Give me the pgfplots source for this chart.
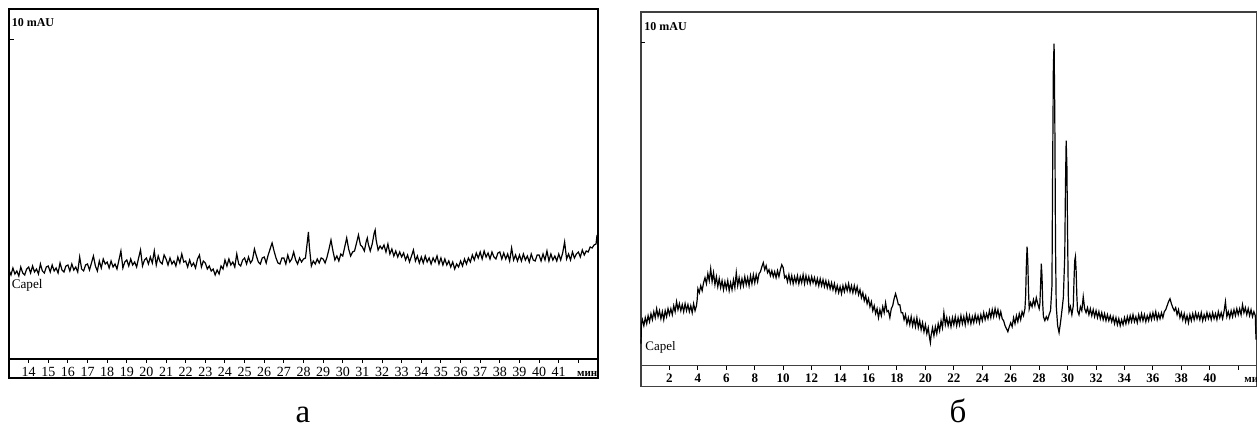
\documentclass[border=0pt]{standalone}
\usepackage{fontspec}
\setmainfont{Liberation Serif}
\usepackage{pgfplots}
\pgfplotsset{compat=1.18}
\newcommand\fs[1]{\fontsize{#1}{#1}\selectfont}
\begin{document}
\begin{tikzpicture}[x=1pt,y=1pt]
\useasboundingbox (0,0) rectangle (628.5,213.5);
% ---------------- panel a ----------------
\begin{axis}[at={(4.5pt,34pt)}, anchor=south west, scale only axis,
  width=294.5pt, height=175pt, xmin=13, xmax=43, ymin=0, ymax=350,
  clip=false, axis line style={line width=0.8pt},
  /pgf/number format/assume math mode=true,
  xtick={14,...,42},
  xticklabels={14,15,16,17,18,19,20,21,22,23,24,25,26,27,28,29,30,31,32,33,34,35,36,37,38,39,40,41,{}},
  xtick pos=bottom, tick align=outside, major tick length=2pt,
  tick style={line width=0.5pt,black},
  xticklabel style={font=\fs{7}, anchor=base, yshift=-6.75pt},
  ytick=\empty]
\addplot[black, line width=0.6pt] coordinates {
(13.0,89)(13.1,84)(13.2,91)(13.3,85)(13.4,88)(13.5,83)(13.6,92)(13.7,86)(13.8,84)(13.9,90)
(14.0,92)(14.1,86)(14.2,93)(14.3,87)(14.4,90)(14.5,85)(14.6,95)(14.7,88)(14.8,86)(14.9,92)
(15.0,93)(15.1,87)(15.2,94)(15.3,88)(15.4,91)(15.5,86)(15.6,96)(15.7,89)(15.8,87)(15.9,93)
(16.0,94)(16.1,88)(16.2,95)(16.3,89)(16.4,92)(16.5,87)(16.6,102)(16.7,90)(16.8,88)(16.9,94)
(17.0,95)(17.1,89)(17.2,96)(17.3,103)(17.4,93)(17.5,88)(17.6,98)(17.7,91)(17.8,100)(17.9,95)
(18.0,97)(18.1,91)(18.2,98)(18.3,92)(18.4,95)(18.5,90)(18.6,99)(18.7,108)(18.8,91)(18.9,97)
(19.0,99)(19.1,93)(19.2,100)(19.3,94)(19.4,97)(19.5,92)(19.6,101)(19.7,109)(19.8,93)(19.9,99)
(20.0,101)(20.1,95)(20.2,102)(20.3,96)(20.4,108)(20.5,94)(20.6,103)(20.7,97)(20.8,95)(20.9,104)
(21.0,100)(21.1,94)(21.2,101)(21.3,95)(21.4,98)(21.5,93)(21.6,102)(21.7,96)(21.8,105)(21.9,97)
(22.0,98)(22.1,92)(22.2,99)(22.3,93)(22.4,96)(22.5,91)(22.6,100)(22.7,104)(22.8,92)(22.9,98)
(23.0,96)(23.1,90)(23.2,93)(23.3,88)(23.4,90)(23.5,84)(23.6,89)(23.7,85)(23.8,93)(23.9,90)
(24.0,99)(24.1,93)(24.2,100)(24.3,94)(24.4,97)(24.5,92)(24.6,105)(24.7,95)(24.8,93)(24.9,99)
(25.0,101)(25.1,95)(25.2,102)(25.3,96)(25.4,99)(25.5,110)(25.6,103)(25.7,97)(25.8,95)(25.9,101)
(26.0,102)(26.1,96)(26.2,104)(26.3,110)(26.4,116)(26.5,108)(26.6,101)(26.7,96)(26.8,95)(26.9,101)
(27.0,101)(27.1,95)(27.2,104)(27.3,97)(27.4,100)(27.5,107)(27.6,99)(27.7,95)(27.8,101)(27.9,97)
(28.0,100)(28.1,101)(28.2,118)(28.25,127)(28.3,112)(28.4,93)(28.5,98)(28.6,95)(28.7,100)(28.8,96)(28.9,101)
(29.0,100)(29.1,96)(29.2,102)(29.3,110)(29.4,119)(29.5,108)(29.6,99)(29.7,103)(29.8,98)(29.9,105)
(30.0,103)(30.1,112)(30.2,121)(30.3,110)(30.4,103)(30.5,107)(30.6,108)(30.7,116)(30.8,124)(30.9,114)
(31.0,112)(31.1,108)(31.2,118)(31.25,121)(31.3,115)(31.4,108)(31.5,115)(31.6,126)(31.65,129)(31.7,119)(31.8,109)(31.9,113)
(32.0,110)(32.1,114)(32.2,107)(32.3,115)(32.4,105)(32.5,110)(32.6,103)(32.7,108)(32.8,102)(32.9,107)
(33.0,102)(33.1,106)(33.2,99)(33.3,104)(33.4,97)(33.5,103)(33.6,109)(33.7,98)(33.8,103)(33.9,96)
(34.0,102)(34.1,96)(34.2,103)(34.3,97)(34.4,101)(34.5,95)(34.6,101)(34.7,97)(34.8,103)(34.9,95)
(35.0,101)(35.1,94)(35.2,100)(35.3,94)(35.4,98)(35.5,92)(35.6,97)(35.7,90)(35.8,95)(35.9,92)
(36.0,98)(36.1,93)(36.2,100)(36.3,95)(36.4,101)(36.5,97)(36.6,104)(36.7,99)(36.8,106)(36.9,101)
(37.0,107)(37.1,100)(37.2,108)(37.3,102)(37.4,106)(37.5,100)(37.6,107)(37.7,102)(37.8,100)(37.9,106)
(38.0,107)(38.1,100)(38.2,106)(38.3,100)(38.4,105)(38.5,98)(38.6,111)(38.7,99)(38.8,104)(38.9,98)
(39.0,104)(39.1,98)(39.2,105)(39.3,99)(39.4,103)(39.5,97)(39.6,105)(39.7,99)(39.8,98)(39.9,104)
(40.0,104)(40.1,98)(40.2,105)(40.3,99)(40.4,108)(40.5,98)(40.6,105)(40.7,99)(40.8,103)(40.9,98)
(41.0,105)(41.1,99)(41.2,106)(41.3,117)(41.4,100)(41.5,105)(41.6,99)(41.7,107)(41.8,101)(41.9,105)
(42.0,107)(42.1,102)(42.2,109)(42.3,104)(42.4,108)(42.5,107)(42.6,112)(42.7,111)(42.8,114)(42.9,115)(42.95,124)
};
\draw[line width=0.8pt] (rel axis cs:0,0) -- ([yshift=-9.5pt]rel axis cs:0,0) -- ([yshift=-9.5pt]rel axis cs:1,0) -- (rel axis cs:1,0);
\draw[line width=0.5pt] (axis cs:13,319) -- (axis cs:13.25,319);
\node[anchor=west, font=\bfseries\fs{6}, inner sep=0pt] at (rel axis cs:0.004,0.961) {10 mAU};
\node[anchor=west, font=\fs{6.6}, inner sep=0pt] at (axis cs:13.12,74) {Capel};
\node[anchor=base, font=\bfseries\fs{5.5}, inner sep=0pt, yshift=-8.75pt] at (axis cs:42.45,0) {мин};
\end{axis}
% ---------------- panel b ----------------
\begin{axis}[at={(320.5pt,30.65pt)}, anchor=south west, scale only axis,
  width=308pt, height=176.85pt, xmin=0, xmax=43.32, ymin=0, ymax=353.7,
  clip=false, axis line style={line width=0.8pt, black!75},
  /pgf/number format/assume math mode=true,
  xtick={2,4,...,42},
  xticklabels={2,4,6,8,10,12,14,16,18,20,22,24,26,28,30,32,34,36,38,40,{}},
  xtick pos=bottom, tick align=outside, major tick length=2pt,
  tick style={line width=0.5pt,black},
  xticklabel style={font=\bfseries\fs{6.5}, anchor=base, yshift=-6.4pt},
  ytick=\empty]
\addplot[black, line width=0.6pt] coordinates {
(0.0,22)(0.03,42)
(0.1,46)(0.2,40)(0.3,48)(0.4,42)(0.5,50)(0.6,44)(0.7,52)(0.8,46)(0.9,54)(1.0,48)
(1.1,57)(1.2,49)(1.3,55)(1.4,47)(1.5,54)(1.6,46)(1.7,55)(1.8,49)(1.9,57)(2.0,51)
(2.1,57)(2.2,51)(2.3,60)(2.4,54)(2.5,64)(2.6,56)(2.7,62)(2.8,55)(2.9,61)(3.0,54)
(3.1,62)(3.2,55)(3.3,61)(3.4,54)(3.5,60)(3.6,53)(3.7,62)(3.8,55)(3.9,60)(3.95,66)
(4.0,77)(4.1,73)(4.2,80)(4.3,75)(4.4,83)(4.5,88)(4.6,82)(4.7,92)(4.8,85)(4.9,97)
(5.0,84)(5.1,93)(5.2,81)(5.3,89)(5.4,79)(5.5,87)(5.6,78)(5.7,85)(5.8,76)(5.9,84)
(6.0,77)(6.1,85)(6.2,75)(6.3,83)(6.4,76)(6.5,86)(6.6,78)(6.7,93)(6.8,80)(6.9,88)
(7.0,79)(7.1,87)(7.2,80)(7.3,89)(7.4,81)(7.5,88)(7.6,80)(7.7,90)(7.8,82)(7.9,91)
(8.0,83)(8.1,91)(8.2,84)(8.3,92)(8.4,94)(8.5,99)(8.6,103)(8.7,96)(8.8,100)(8.9,93)
(9.0,96)(9.1,90)(9.2,95)(9.3,89)(9.4,94)(9.5,88)(9.6,95)(9.7,89)(9.8,96)(9.9,101)
(10.0,98)(10.1,88)(10.2,90)(10.3,84)(10.4,91)(10.5,83)(10.6,90)(10.7,82)(10.8,89)(10.9,83)
(11.0,90)(11.1,82)(11.2,89)(11.3,83)(11.4,91)(11.5,82)(11.6,90)(11.7,83)(11.8,89)(11.9,82)
(12.0,89)(12.1,83)(12.2,88)(12.3,81)(12.4,87)(12.5,80)(12.6,87)(12.7,80)(12.8,86)(12.9,79)
(13.0,85)(13.1,78)(13.2,84)(13.3,77)(13.4,83)(13.5,76)(13.6,82)(13.7,74)(13.8,80)(13.9,73)
(14.0,79)(14.1,72)(14.2,80)(14.3,74)(14.4,81)(14.5,75)(14.6,82)(14.7,74)(14.8,80)(14.9,73)
(15.0,80)(15.1,73)(15.2,79)(15.3,71)(15.4,76)(15.5,68)(15.6,73)(15.7,65)(15.8,70)(15.9,62)
(16.0,67)(16.1,59)(16.2,64)(16.3,55)(16.4,60)(16.5,52)(16.6,57)(16.7,48)(16.8,56)(16.9,50)
(17.0,59)(17.1,53)(17.2,63)(17.3,54)(17.4,55)(17.5,48)(17.6,57)(17.7,60)(17.8,67)(17.9,72)
(18.0,67)(18.1,61)(18.2,61)(18.3,53)(18.4,53)(18.5,46)(18.6,51)(18.7,42)(18.8,48)(18.9,41)
(19.0,49)(19.1,40)(19.2,47)(19.3,39)(19.4,48)(19.5,38)(19.6,45)(19.7,36)(19.8,43)(19.9,34)
(20.0,41)(20.1,32)(20.2,38)(20.3,27)(20.35,23)(20.4,30)(20.5,38)(20.6,30)(20.7,39)(20.8,32)
(20.9,42)(21.0,35)(21.1,45)(21.2,38)(21.3,53)(21.4,41)(21.5,48)(21.6,40)(21.7,47)(21.8,39)(21.9,48)
(22.0,41)(22.1,49)(22.2,40)(22.3,48)(22.4,41)(22.5,50)(22.6,42)(22.7,49)(22.8,41)(22.9,51)
(23.0,43)(23.1,50)(23.2,42)(23.3,49)(23.4,43)(23.5,51)(23.6,44)(23.7,50)(23.8,43)(23.9,51)
(24.0,45)(24.1,53)(24.2,46)(24.3,52)(24.4,47)(24.5,55)(24.6,48)(24.7,56)(24.8,49)(24.9,57)
(25.0,50)(25.1,56)(25.2,48)(25.3,54)(25.4,47)(25.5,45)(25.6,40)(25.7,37)(25.8,34)(25.9,39)
(26.0,43)(26.1,39)(26.2,48)(26.3,42)(26.4,50)(26.5,44)(26.6,52)(26.7,46)(26.8,54)(26.9,50)
(27.0,57)(27.05,70)(27.1,100)(27.15,119)(27.2,105)(27.25,75)(27.3,57)(27.4,63)(27.5,59)
(27.6,66)(27.7,60)(27.8,68)(27.9,62)(28.0,57)(28.05,62)(28.1,80)(28.15,102)(28.2,90)(28.25,62)(28.3,49)(28.4,45)(28.5,49)
(28.6,46)(28.7,51)(28.8,55)(28.9,80)(28.95,200)(29.0,300)(29.05,322)(29.1,250)(29.15,120)(29.2,60)(29.3,40)(29.4,33)
(29.5,43)(29.6,55)(29.7,68)(29.8,110)(29.85,180)(29.9,225)(29.95,200)(30.0,130)(30.05,70)(30.1,54)(30.2,59)(30.3,51)
(30.4,60)(30.45,85)(30.5,105)(30.55,109)(30.6,95)(30.65,70)(30.7,55)(30.8,51)(30.9,59)(31.0,55)
(31.1,69)(31.2,57)(31.3,53)(31.4,58)(31.5,51)(31.6,57)(31.7,50)(31.8,56)(31.9,49)(32.0,55)
(32.1,48)(32.2,54)(32.3,47)(32.4,53)(32.5,46)(32.6,52)(32.7,45)(32.8,51)(32.9,45)(33.0,50)
(33.1,44)(33.2,49)(33.3,42)(33.4,48)(33.5,41)(33.6,47)(33.7,40)(33.8,46)(33.9,41)(34.0,48)
(34.1,42)(34.2,49)(34.3,43)(34.4,50)(34.5,44)(34.6,51)(34.7,44)(34.8,49)(34.9,43)(35.0,51)
(35.1,45)(35.2,52)(35.3,45)(35.4,51)(35.5,44)(35.6,50)(35.7,45)(35.8,52)(35.9,46)(36.0,53)
(36.1,47)(36.2,54)(36.3,46)(36.4,52)(36.5,47)(36.6,53)(36.7,48)(36.8,54)(36.9,56)(37.0,60)
(37.1,64)(37.2,67)(37.3,62)(37.4,58)(37.5,55)(37.6,58)(37.7,51)(37.8,56)(37.9,48)(38.0,53)
(38.1,46)(38.2,52)(38.3,44)(38.4,50)(38.5,43)(38.6,51)(38.7,45)(38.8,52)(38.9,46)(39.0,53)
(39.1,47)(39.2,52)(39.3,46)(39.4,53)(39.5,45)(39.6,51)(39.7,46)(39.8,53)(39.9,47)(40.0,52)
(40.1,46)(40.2,53)(40.3,47)(40.4,52)(40.5,46)(40.6,54)(40.7,48)(40.8,53)(40.9,47)(41.0,54)
(41.1,64)(41.2,49)(41.3,54)(41.4,48)(41.5,55)(41.6,49)(41.7,56)(41.8,50)(41.9,57)(42.0,51)
(42.1,57)(42.2,51)(42.3,61)(42.4,53)(42.5,58)(42.6,51)(42.7,57)(42.8,50)(42.9,56)(43.0,49)
(43.1,54)(43.2,50)(43.25,26)
};
\draw[line width=0.8pt, black!75] (rel axis cs:0,0) -- ([yshift=-10.5pt]rel axis cs:0,0) -- ([yshift=-10.5pt]rel axis cs:1,0) -- (rel axis cs:1,0);
\draw[line width=0.5pt] (axis cs:0,322.7) -- (axis cs:0.28,322.7);
\node[anchor=west, font=\bfseries\fs{6}, inner sep=0pt] at (rel axis cs:0.005,0.960) {10 mAU};
\node[anchor=west, font=\fs{6.5}, inner sep=0pt] at (axis cs:0.28,18.7) {Capel};
\node[anchor=base west, font=\bfseries\fs{5.5}, inner sep=0pt, yshift=-8.4pt] at (axis cs:42.4,0) {мин};
\end{axis}
\node[anchor=base, font=\fs{16.5}, inner sep=0pt] at (151.5,2) {а};
\node[anchor=base, font=\fs{16.5}, inner sep=0pt] at (479,2) {б};
\end{tikzpicture}
\end{document}
